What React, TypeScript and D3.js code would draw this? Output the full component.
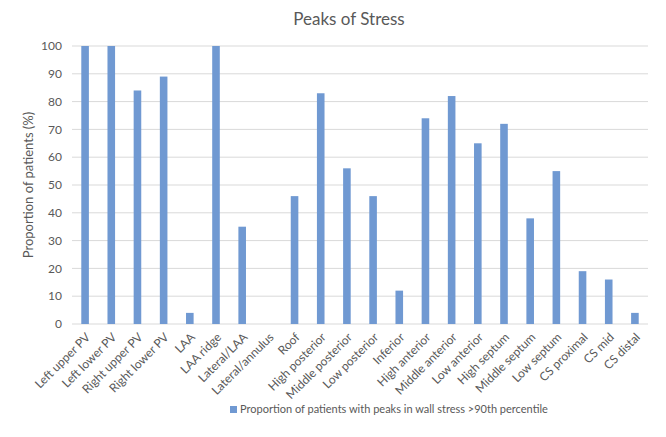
import React from "react";
import * as d3 from "d3";

const categories = [
  "Left upper PV", "Left lower PV", "Right upper PV", "Right lower PV", "LAA", "LAA ridge",
  "Lateral/LAA", "Lateral/annulus", "Roof", "High posterior", "Middle posterior", "Low posterior",
  "Inferior", "High anterior", "Middle anterior", "Low anterior", "High septum", "Middle septum",
  "Low septum", "CS proximal", "CS mid", "CS distal",
];
const values = [100, 100, 84, 89, 4, 100, 35, 0, 46, 83, 56, 46, 12, 74, 82, 65, 72, 38, 55, 19, 16, 4];
const yTicks = [0, 10, 20, 30, 40, 50, 60, 70, 80, 90, 100];
const title = "Peaks of Stress";
const yTitle = "Proportion of patients (%)";
const legendLabel = "Proportion of patients with peaks in wall stress >90th percentile";

const W = 666, H = 437;
const M = { left: 72, right: 18, top: 46, bottom: 113 };
const FONT = "Lato, 'Open Sans', sans-serif";
const TXT = "#595959";
const BAR = "#7099d2";

export default function App() {
  const x = d3.scaleBand<string>().domain(categories).range([M.left, W - M.right]).paddingInner(0.71).paddingOuter(0.355);
  const y = d3.scaleLinear().domain([0, 100]).range([H - M.bottom, M.top]);
  return (
    <svg width={W} height={H} style={{ position: "absolute", left: 0, top: 0, background: "#fff" }} fontFamily={FONT}>
      <rect width={W} height={H} fill="#fff" />
      <text x={349} y={25} textAnchor="middle" fontSize={17} fill={TXT}>{title}</text>
      {yTicks.map((t) => (
        <g key={t}>
          <line x1={M.left} x2={W - M.right} y1={y(t)} y2={y(t)} stroke="#d9d9d9" strokeWidth={1} />
          <text x={M.left - 10} y={y(t)} dy="0.35em" textAnchor="end" fontSize={12} fill={TXT}>{t}</text>
        </g>
      ))}
      <text transform={`translate(33,${(y(0) + y(100)) / 2}) rotate(-90)`} textAnchor="middle" fontSize={13} fill={TXT}>{yTitle}</text>
      {categories.map((c, i) => (
        <rect key={c} x={x(c)} y={y(values[i])} width={x.bandwidth()} height={y(0) - y(values[i])} fill={BAR} />
      ))}
      {categories.map((c) => {
        const cx = (x(c) as number) + x.bandwidth() / 2 + 3;
        return (
          <text key={c} transform={`translate(${cx},${y(0) + 11}) rotate(-45)`} textAnchor="end" dy="0.35em" fontSize={12} fill={TXT}>{c}</text>
        );
      })}
      <rect x={230} y={406} width={7} height={7} fill={BAR} />
      <text x={240} y={413} fontSize={11} fill={TXT}>{legendLabel}</text>
    </svg>
  );
}
